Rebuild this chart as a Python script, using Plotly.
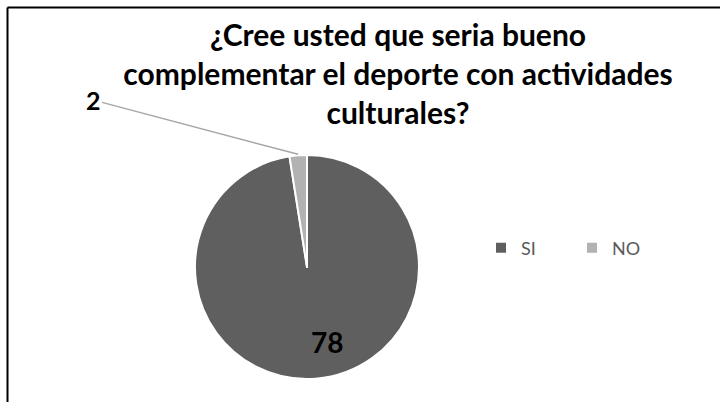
import math
import plotly.graph_objects as go

# datos
labels = ['SI', 'NO']
values = [78, 2]
colors = ['#5F5F5F', '#B2B2B2']

title_text = '¿Cree usted que seria bueno<br>complementar el deporte con actividades<br>culturales?'

FONT = 'Lato'
W, H = 720, 402

# posición del pie (px)
cx, cy, r = 307, 267, 112
dom_x = [(cx - r) / W, (cx + r) / W]
dom_y = [(H - cy - r) / H, (H - cy + r) / H]

fig = go.Figure()

fig.add_trace(go.Pie(
    labels=labels,
    values=values,
    sort=False,
    direction='clockwise',
    rotation=0,
    marker=dict(colors=colors, line=dict(color='white', width=2)),
    textinfo='none',
    domain=dict(x=dom_x, y=dom_y),
    hoverinfo='label+value',
))

# etiqueta del SI, dentro del sector (abajo, como en el original)
fig.add_annotation(
    x=(cx + 20) / W, y=1 - (cy + 94) / H, xref='paper', yref='paper',
    text=f'<b>{values[0]}</b>', showarrow=False,
    font=dict(family=FONT, size=28, color='black'),
)

# etiqueta del NO con línea guía hacia el centro de su sector
total = sum(values)
mid = 360 - values[1] / total * 360 / 2
ang = math.radians(mid)
hx = cx + (r + 1) * math.sin(ang)
hy = cy - (r + 1) * math.cos(ang)
fig.add_annotation(
    x=hx / W, y=1 - hy / H, xref='paper', yref='paper',
    text=f'<b>{values[1]}</b>',
    showarrow=True, arrowhead=0, arrowwidth=1.5, arrowcolor='#A6A6A6',
    ax=93 - hx, ay=100 - hy,
    font=dict(family=FONT, size=25, color='black'),
)

# marco (solo se ve arriba e izquierda)
fig.add_shape(type='line', xref='paper', yref='paper',
              x0=7.5 / W, x1=1, y0=1 - 7.5 / H, y1=1 - 7.5 / H,
              line=dict(color='black', width=2))
fig.add_shape(type='line', xref='paper', yref='paper',
              x0=7.5 / W, x1=7.5 / W, y0=0, y1=1 - 7.5 / H,
              line=dict(color='black', width=2))

fig.update_layout(
    width=W, height=H,
    margin=dict(l=0, r=0, t=0, b=0),
    paper_bgcolor='white',
    plot_bgcolor='white',
    title=dict(
        text=title_text,
        font=dict(family=FONT, size=30, color='black', weight='bold'),
        x=398 / W, xanchor='center',
        y=1 - 46 / H, yanchor='top',
    ),
    showlegend=True,
    legend=dict(
        orientation='h',
        x=481 / W, xanchor='left',
        y=1 - 248 / H, yanchor='middle',
        entrywidth=46, entrywidthmode='pixels',
        font=dict(family=FONT, size=18, color='#595959'),
    ),
)

fig.write_html('out.html', config={'displayModeBar': False},
               post_script="document.body.style.margin='0';")
